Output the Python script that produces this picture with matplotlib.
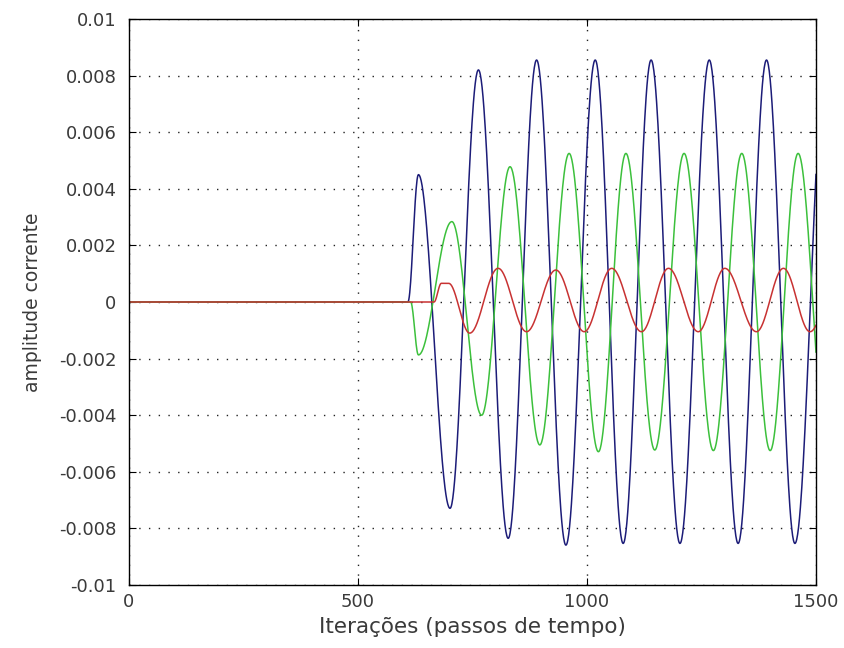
import numpy as np
import matplotlib
matplotlib.use("Agg")
import matplotlib.pyplot as plt

# Extrema (iteration, amplitude)
blue_t = [0, 609, 632, 701, 763, 828, 890, 954, 1018, 1079, 1140, 1203, 1267, 1330, 1392, 1454, 1522]
blue_v = [0, 0, 0.0045, -0.00729, 0.0082, -0.00835, 0.00855, -0.00859, 0.00855, -0.00853,
          0.00855, -0.00853, 0.00855, -0.00853, 0.00855, -0.00853, 0.00855]

green_t = [0, 615, 632, 705, 770, 832, 897, 961, 1025, 1085, 1148, 1212, 1276, 1338, 1400, 1461, 1525]
green_v = [0, 0, -0.00187, 0.00284, -0.0040, 0.00478, -0.00505, 0.00525, -0.00529, 0.00525,
           -0.00523, 0.00525, -0.00525, 0.00525, -0.00525, 0.00525, -0.00525]

red_t = [0, 666, 682, 698, 744, 806, 868, 932, 994, 1054, 1119, 1178, 1243, 1301, 1370, 1429, 1487, 1550]
red_v = [0, 0, 0.00066, 0.00066, -0.0011, 0.00119, -0.00105, 0.00113, -0.00105, 0.00119,
         -0.00105, 0.00119, -0.00105, 0.00119, -0.00105, 0.00119, -0.00105, 0.00119]

x_ticks = [0, 500, 1000, 1500]
y_ticks = [-0.01, -0.008, -0.006, -0.004, -0.002, 0, 0.002, 0.004, 0.006, 0.008, 0.01]
y_tick_labels = ["-0.01", "-0.008", "-0.006", "-0.004", "-0.002", "0",
                 "0.002", "0.004", "0.006", "0.008", "0.01"]

n = np.arange(0, 1501)


def render(t, v):
    t = np.asarray(t, float)
    v = np.asarray(v, float)
    idx = np.clip(np.searchsorted(t, n, side="right") - 1, 0, len(t) - 2)
    t0, t1 = t[idx], t[idx + 1]
    v0, v1 = v[idx], v[idx + 1]
    u = np.clip((n - t0) / (t1 - t0), 0, 1)
    return v0 + (v1 - v0) * (1 - np.cos(np.pi * u)) / 2


fig = plt.figure(figsize=(8.44, 6.48), dpi=100)
ax = fig.add_axes([0.1528, 0.0972, 0.8140, 0.8735])

ax.plot(n, render(blue_t, blue_v), color="#1c1c78", lw=1.1)
ax.plot(n, render(green_t, green_v), color="#3cc03c", lw=1.1)
ax.plot(n, render(red_t, red_v), color="#c83232", lw=1.1)

ax.set_xlim(0, 1500)
ax.set_ylim(-0.01, 0.01)
ax.set_xticks(x_ticks)
ax.set_xticklabels([str(v) for v in x_ticks])
ax.set_yticks(y_ticks)
ax.set_yticklabels(y_tick_labels)
ax.grid(True, linestyle=(0, (1, 6)), color="#222222", linewidth=1.0)
ax.tick_params(direction="in", top=True, right=True, length=5, width=0.8,
               labelsize=13, colors="black")
ax.tick_params(axis="y", pad=9)
ax.tick_params(axis="x", pad=6)
for lab in ax.get_xticklabels() + ax.get_yticklabels():
    lab.set_color("#3a3a3a")
for s in ax.spines.values():
    s.set_linewidth(1.0)

ax.set_xlabel("Iterações (passos de tempo)", fontsize=15.5, color="#3a3a3a", labelpad=4)
ax.set_ylabel("amplitude corrente", fontsize=13.5, color="#3a3a3a", labelpad=12)

fig.savefig("out.png", dpi=100)
